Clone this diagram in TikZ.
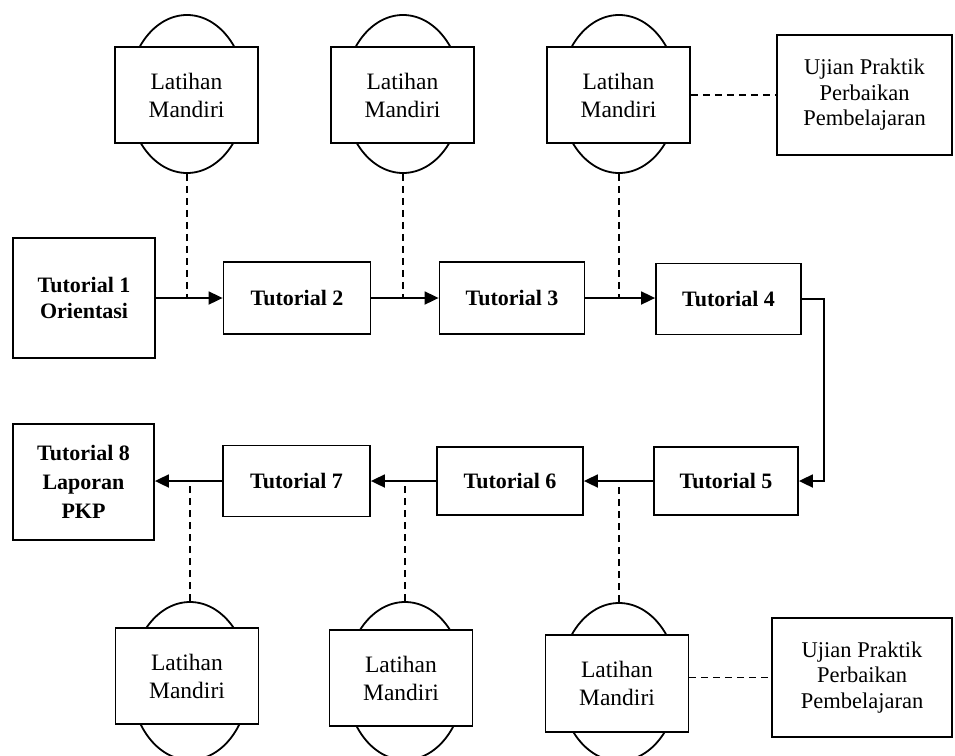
\documentclass[tikz,border=0pt]{standalone}
\usepackage{fontspec}
\setmainfont{Liberation Serif}
\usetikzlibrary{shapes.geometric,arrows.meta}
\tikzset{
  base/.style={draw, line width=1.8pt, fill=white, align=center, inner sep=0pt},
  tut/.style={base, font=\bfseries\fontsize{22}{26}\selectfont},
  lat/.style={base, font=\fontsize{23.5}{28}\selectfont, minimum width=143pt, minimum height=96pt},
  ujian/.style={base, font=\fontsize{22.5}{25.5}\selectfont},
  oval/.style={draw, ellipse, line width=1.8pt, minimum width=118pt, minimum height=158pt, inner sep=0pt},
  flow/.style={line width=1.8pt, -{Triangle[length=14pt,width=13pt]}},
  link/.style={line width=1.8pt, dash pattern=on 7pt off 5pt}
}
\begin{document}
\begin{tikzpicture}[x=1pt,y=-1pt]
\useasboundingbox (0,0) rectangle (955,755);
% tutorials
\node[tut, minimum width=142pt, minimum height=120pt] (t1) at (84,298) {Tutorial 1\\Orientasi};
\node[tut, minimum width=147pt, minimum height=72pt] (t2) at (297,298) {Tutorial 2};
\node[tut, minimum width=145pt, minimum height=72pt] (t3) at (512,298) {Tutorial 3};
\node[tut, minimum width=145pt, minimum height=71pt] (t4) at (728.5,299) {Tutorial 4};
\node[tut, minimum width=144pt, minimum height=68pt] (t5) at (726,481) {Tutorial 5};
\node[tut, minimum width=146pt, minimum height=68pt] (t6) at (510,481) {Tutorial 6};
\node[tut, minimum width=147pt, minimum height=71pt] (t7) at (296.5,481) {Tutorial 7};
\node[tut, font=\bfseries\fontsize{22}{29}\selectfont, minimum width=141pt, minimum height=116pt] (t8) at (83.5,482) {Tutorial 8\\Laporan\\PKP};
% top latihan
\node[oval] (e1) at (187,94) {};
\node[lat] (l1) at (186.5,95) {Latihan\\Mandiri};
\node[oval] (e2) at (403,94) {};
\node[lat] (l2) at (402.5,95) {Latihan\\Mandiri};
\node[oval] (e3) at (619,94) {};
\node[lat] (l3) at (618.5,95) {Latihan\\Mandiri};
\node[ujian, minimum width=175pt, minimum height=120pt] (u1) at (864.5,95) {Ujian Praktik\\Perbaikan\\Pembelajaran};
% bottom latihan
\node[oval] (e4) at (190,681) {};
\node[lat] (l4) at (187,676) {Latihan\\Mandiri};
\node[oval] (e5) at (405,681) {};
\node[lat] (l5) at (401,678) {Latihan\\Mandiri};
\node[oval] (e6) at (619,682) {};
\node[lat, minimum height=97pt] (l6) at (617,683.5) {Latihan\\Mandiri};
\node[ujian, minimum width=180pt, minimum height=119pt] (u2) at (862,677.5) {Ujian Praktik\\Perbaikan\\Pembelajaran};
% flow arrows
\draw[flow] (t1.east) -- (t2.west);
\draw[flow] (t2.east) -- (t3.west);
\draw[flow] (t3.east) -- (t3.east -| t4.west);
\draw[flow] (t4.east) -- ++(22,0) |- (t5.east);
\draw[flow] (t5.west) -- (t5.west -| t6.east);
\draw[flow] (t6.west) -- (t6.west -| t7.east);
\draw[flow] (t7.west) -- (t7.west -| t8.east);
% dashed links
\draw[link] (e1.south) -- (e1.south |- t2.west);
\draw[link] (e2.south) -- (e2.south |- t3.west);
\draw[link] (e3.south) -- (e3.south |- t4.west);
\draw[link] (l3.east) -- (l3.east -| u1.west);
\draw[link] (e4.north) -- (e4.north |- t7.west);
\draw[link] (e5.north) -- (e5.north |- t6.west);
\draw[link] (e6.north) -- (e6.north |- t5.west);
\draw[link] (u2.west -| l6.east) -- (u2.west);
\end{tikzpicture}
\end{document}
